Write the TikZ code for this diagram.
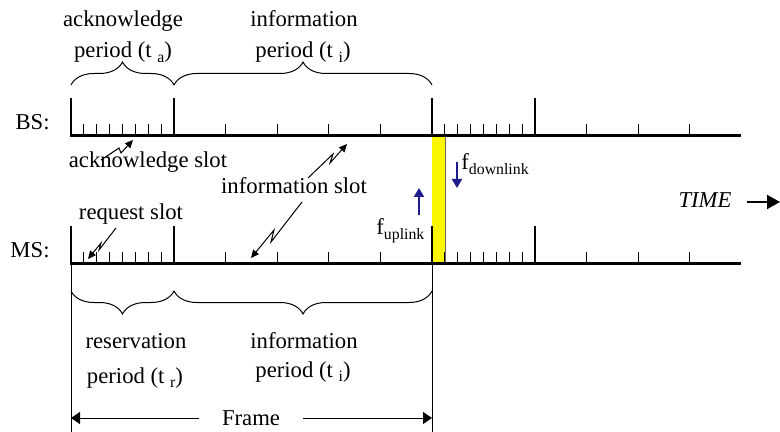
\documentclass[tikz,border=0pt]{standalone}
\usepackage{fontspec}
\setmainfont{Liberation Serif}
\usetikzlibrary{arrows.meta,decorations.pathreplacing}
\definecolor{navyarrow}{RGB}{28,28,140}
\definecolor{slotyellow}{RGB}{250,245,0}
\newcommand{\lowsub}[1]{\raisebox{-0.45ex}{\fontsize{7.9}{9}\selectfont #1}}
\begin{document}
\begin{tikzpicture}[x=0.5pt,y=-0.5pt,
  font=\fontsize{11.35}{13.6}\selectfont,
  mainline/.style={line width=1.5pt},
  talltick/.style={line width=1.4pt},
  shorttick/.style={line width=0.5pt},
  thinline/.style={line width=0.5pt},
  brc/.style={decorate,decoration={brace,amplitude=11.5pt},line width=0.5pt},
  brcm/.style={decorate,decoration={brace,mirror,amplitude=11.5pt},line width=0.5pt},
  lbl/.style={inner sep=0pt,anchor=base},
  bolt/.style={line width=0.5pt,-{Triangle[length=4pt,width=3.6pt]}},
  framearr/.style={line width=0.5pt,-{Triangle[length=4.5pt,width=6pt]}},
  timearr/.style={line width=1pt,-{Triangle[length=6.5pt,width=7pt]}},
  bluearr/.style={navyarrow,line width=1.1pt,-{Triangle[length=4.5pt,width=5pt]}}
]
\useasboundingbox (0,0) rectangle (780,432);

% yellow slot
\fill[slotyellow] (432,136) rectangle (445,264);
\draw[line width=0.3pt,black!60] (445,136) -- (445,264);

% main lines
\coordinate (bsL) at (71,136);
\coordinate (bsR) at (741,136);
\coordinate (msL) at (71,264);
\coordinate (msR) at (741,264);
\draw[mainline] (bsL) -- (bsR);
\draw[mainline] (msL) -- (msR);

% ticks
\foreach \yy in {136,264} {
  \foreach \k in {1,...,7} {
    \draw[shorttick] ({71+\k*12.875},\yy) -- ++(0,-12);
    \draw[shorttick] ({432+\k*12.875},\yy) -- ++(0,-12);
  }
  \foreach \k in {1,...,4} \draw[shorttick] ({174+\k*51.6},\yy) -- ++(0,-12);
  \foreach \k in {1,2,3} \draw[shorttick] ({535+\k*51.5},\yy) -- ++(0,-12);
  \foreach \xx in {71,174,432,535} \draw[talltick] (\xx,\yy+0.7) -- (\xx,\yy-38);
}

% frame vertical lines
\coordinate (fvL0) at (71,264);
\coordinate (fvL1) at (71,432);
\coordinate (fvR0) at (432,264);
\coordinate (fvR1) at (432,432);
\draw[thinline] (fvL0) -- (fvL1);
\draw[thinline] (fvR0) -- (fvR1);

% braces
\draw[brc] (71,85) -- (174,85);
\draw[brc] (174,85) -- (432,85);
\draw[brcm] (71,291) -- (174,291);
\draw[brcm] (174,291) -- (432,291);

% labels
\node[lbl] (ack1) at (123,27) {acknowledge};
\node[lbl] (ack2) at (123,58) {period (t \lowsub{a})};
\node[lbl] (inf1) at (304,27) {information};
\node[lbl] (inf2) at (303,58) {period (t \lowsub{i})};
\node[inner sep=0pt,anchor=base east] (bs) at (50,130) {BS:};
\node[inner sep=0pt,anchor=base east] (ms) at (50,258) {MS:};
\node[lbl] (ackslot) at (148,168) {acknowledge slot};
\node[lbl] (infslot) at (294,194) {information slot};
\node[lbl] (reqslot) at (131,220) {request slot};
\node[lbl] (res1) at (136,348) {reservation};
\node[lbl] (res2) at (135,383) {period (t \lowsub{r})};
\node[lbl] (inf3) at (304,348) {information};
\node[lbl] (inf4) at (303,377) {period (t \lowsub{i})};
\node[inner sep=0pt,anchor=base west] (fdown) at (461,170) {f\lowsub{downlink}};
\node[inner sep=0pt,anchor=base west] (fup) at (376,235) {f\lowsub{uplink}};
\node[lbl,font=\fontsize{11.35}{13.6}\selectfont\itshape] (time) at (705,208) {TIME};

% frame arrow
\node[inner xsep=11.5pt,inner ysep=0pt,anchor=base] (frame) at (251,425) {Frame};
\coordinate (frL) at (71,418);
\coordinate (frR) at (432,418);
\draw[framearr] (frame.west |- frL) -- (frL);
\draw[framearr] (frame.east |- frR) -- (frR);

% time arrow
\coordinate (timeS) at (747,202);
\coordinate (timeE) at (780,202);
\draw[timearr] (timeS) -- (timeE);

% blue arrows
\coordinate (dnS) at (457,162);
\coordinate (dnE) at (457,188);
\coordinate (upS) at (419,215);
\coordinate (upE) at (419,188);
\draw[bluearr] (dnS) -- (dnE);
\draw[bluearr] (upS) -- (upE);

% lightning arrows
\coordinate (ackS) at (101,160);
\coordinate (ackA) at (119,148);
\coordinate (ackB) at (121,153);
\coordinate (ackT) at (133,140);
\draw[bolt] (ackS) -- (ackA) -- (ackB) -- (ackT);

\coordinate (iuS) at (308,178);
\coordinate (iuA) at (333,154);
\coordinate (iuB) at (330,163);
\coordinate (iuT) at (347,144);
\draw[bolt] (iuS) -- (iuA) -- (iuB) -- (iuT);

\coordinate (ilS) at (302,202);
\coordinate (ilA) at (271,242);
\coordinate (ilB) at (274,230);
\coordinate (ilT) at (251,258);
\draw[bolt] (ilS) -- (ilA) -- (ilB) -- (ilT);

\coordinate (rqS) at (116,228);
\coordinate (rqA) at (99,250);
\coordinate (rqB) at (101,243);
\coordinate (rqT) at (88,259);
\draw[bolt] (rqS) -- (rqA) -- (rqB) -- (rqT);
\end{tikzpicture}
\end{document}
